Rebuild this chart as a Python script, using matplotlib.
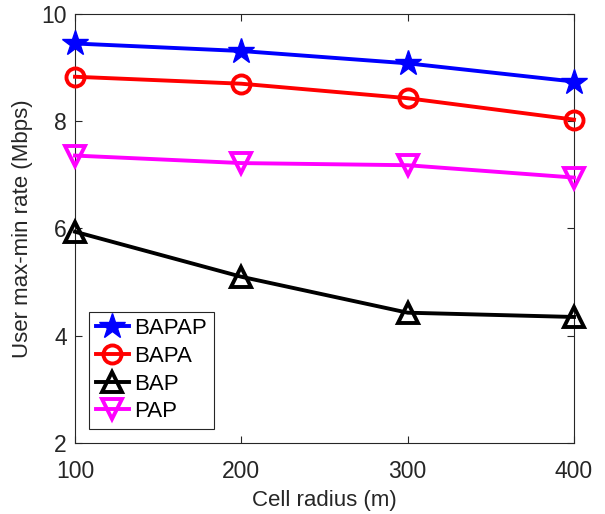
import matplotlib
matplotlib.use('Agg')
import matplotlib.pyplot as plt

plt.rcParams['font.family'] = ['Liberation Sans', 'DejaVu Sans']

radius = [100, 200, 300, 400]
bapap = [9.45, 9.31, 9.08, 8.74]
bapa = [8.83, 8.70, 8.43, 8.03]
bap = [5.94, 5.10, 4.43, 4.35]
pap = [7.36, 7.22, 7.18, 6.95]

fig = plt.figure(figsize=(6.05, 5.14), dpi=100)
ax = fig.add_axes([75 / 605, (514 - 443) / 514, 499 / 605, 429 / 514])

lw = 2.8
ax.plot(radius, bapap, color='#0000ff', lw=lw, marker='*', ms=19, label='BAPAP')
ax.plot(radius, bapa, color='#ff0000', lw=lw, marker='o', ms=13, mfc='none', mew=2.8, label='BAPA')
ax.plot(radius, bap, color='#000000', lw=lw, marker='^', ms=15, mfc='none', mew=2.8, label='BAP')
ax.plot(radius, pap, color='#ff00ff', lw=lw, marker='v', ms=15, mfc='none', mew=2.8, label='PAP')

ax.set_xlim(100, 400)
ax.set_ylim(2, 10)
ax.set_xticks(radius)
ax.set_yticks([2, 4, 6, 8, 10])
ax.tick_params(direction='in', top=True, right=True, labelsize=16.5, colors='#262626', length=5, width=0.8)
ax.tick_params(axis='x', pad=12)
ax.tick_params(axis='y', pad=6)
for s in ax.spines.values():
    s.set_color('#262626')
    s.set_linewidth(0.8)
    s.set_zorder(0.5)

ax.set_xlabel('Cell radius (m)', fontsize=16, color='#262626', labelpad=5)
ax.set_ylabel('User max-min rate (Mbps)', fontsize=16, color='#262626')
ax.yaxis.set_label_coords(-0.084, 0.5)

leg = ax.legend(loc='lower left', bbox_to_anchor=(0.028, 0.033), fontsize=16, fancybox=False,
                edgecolor='#262626', framealpha=1, handlelength=1.5, handletextpad=0.25,
                borderpad=0.3, labelspacing=0.3, borderaxespad=0)
leg.get_frame().set_linewidth(0.8)

for line in ax.get_lines():
    line.set_clip_on(False)

fig.savefig('out.png', dpi=100)
